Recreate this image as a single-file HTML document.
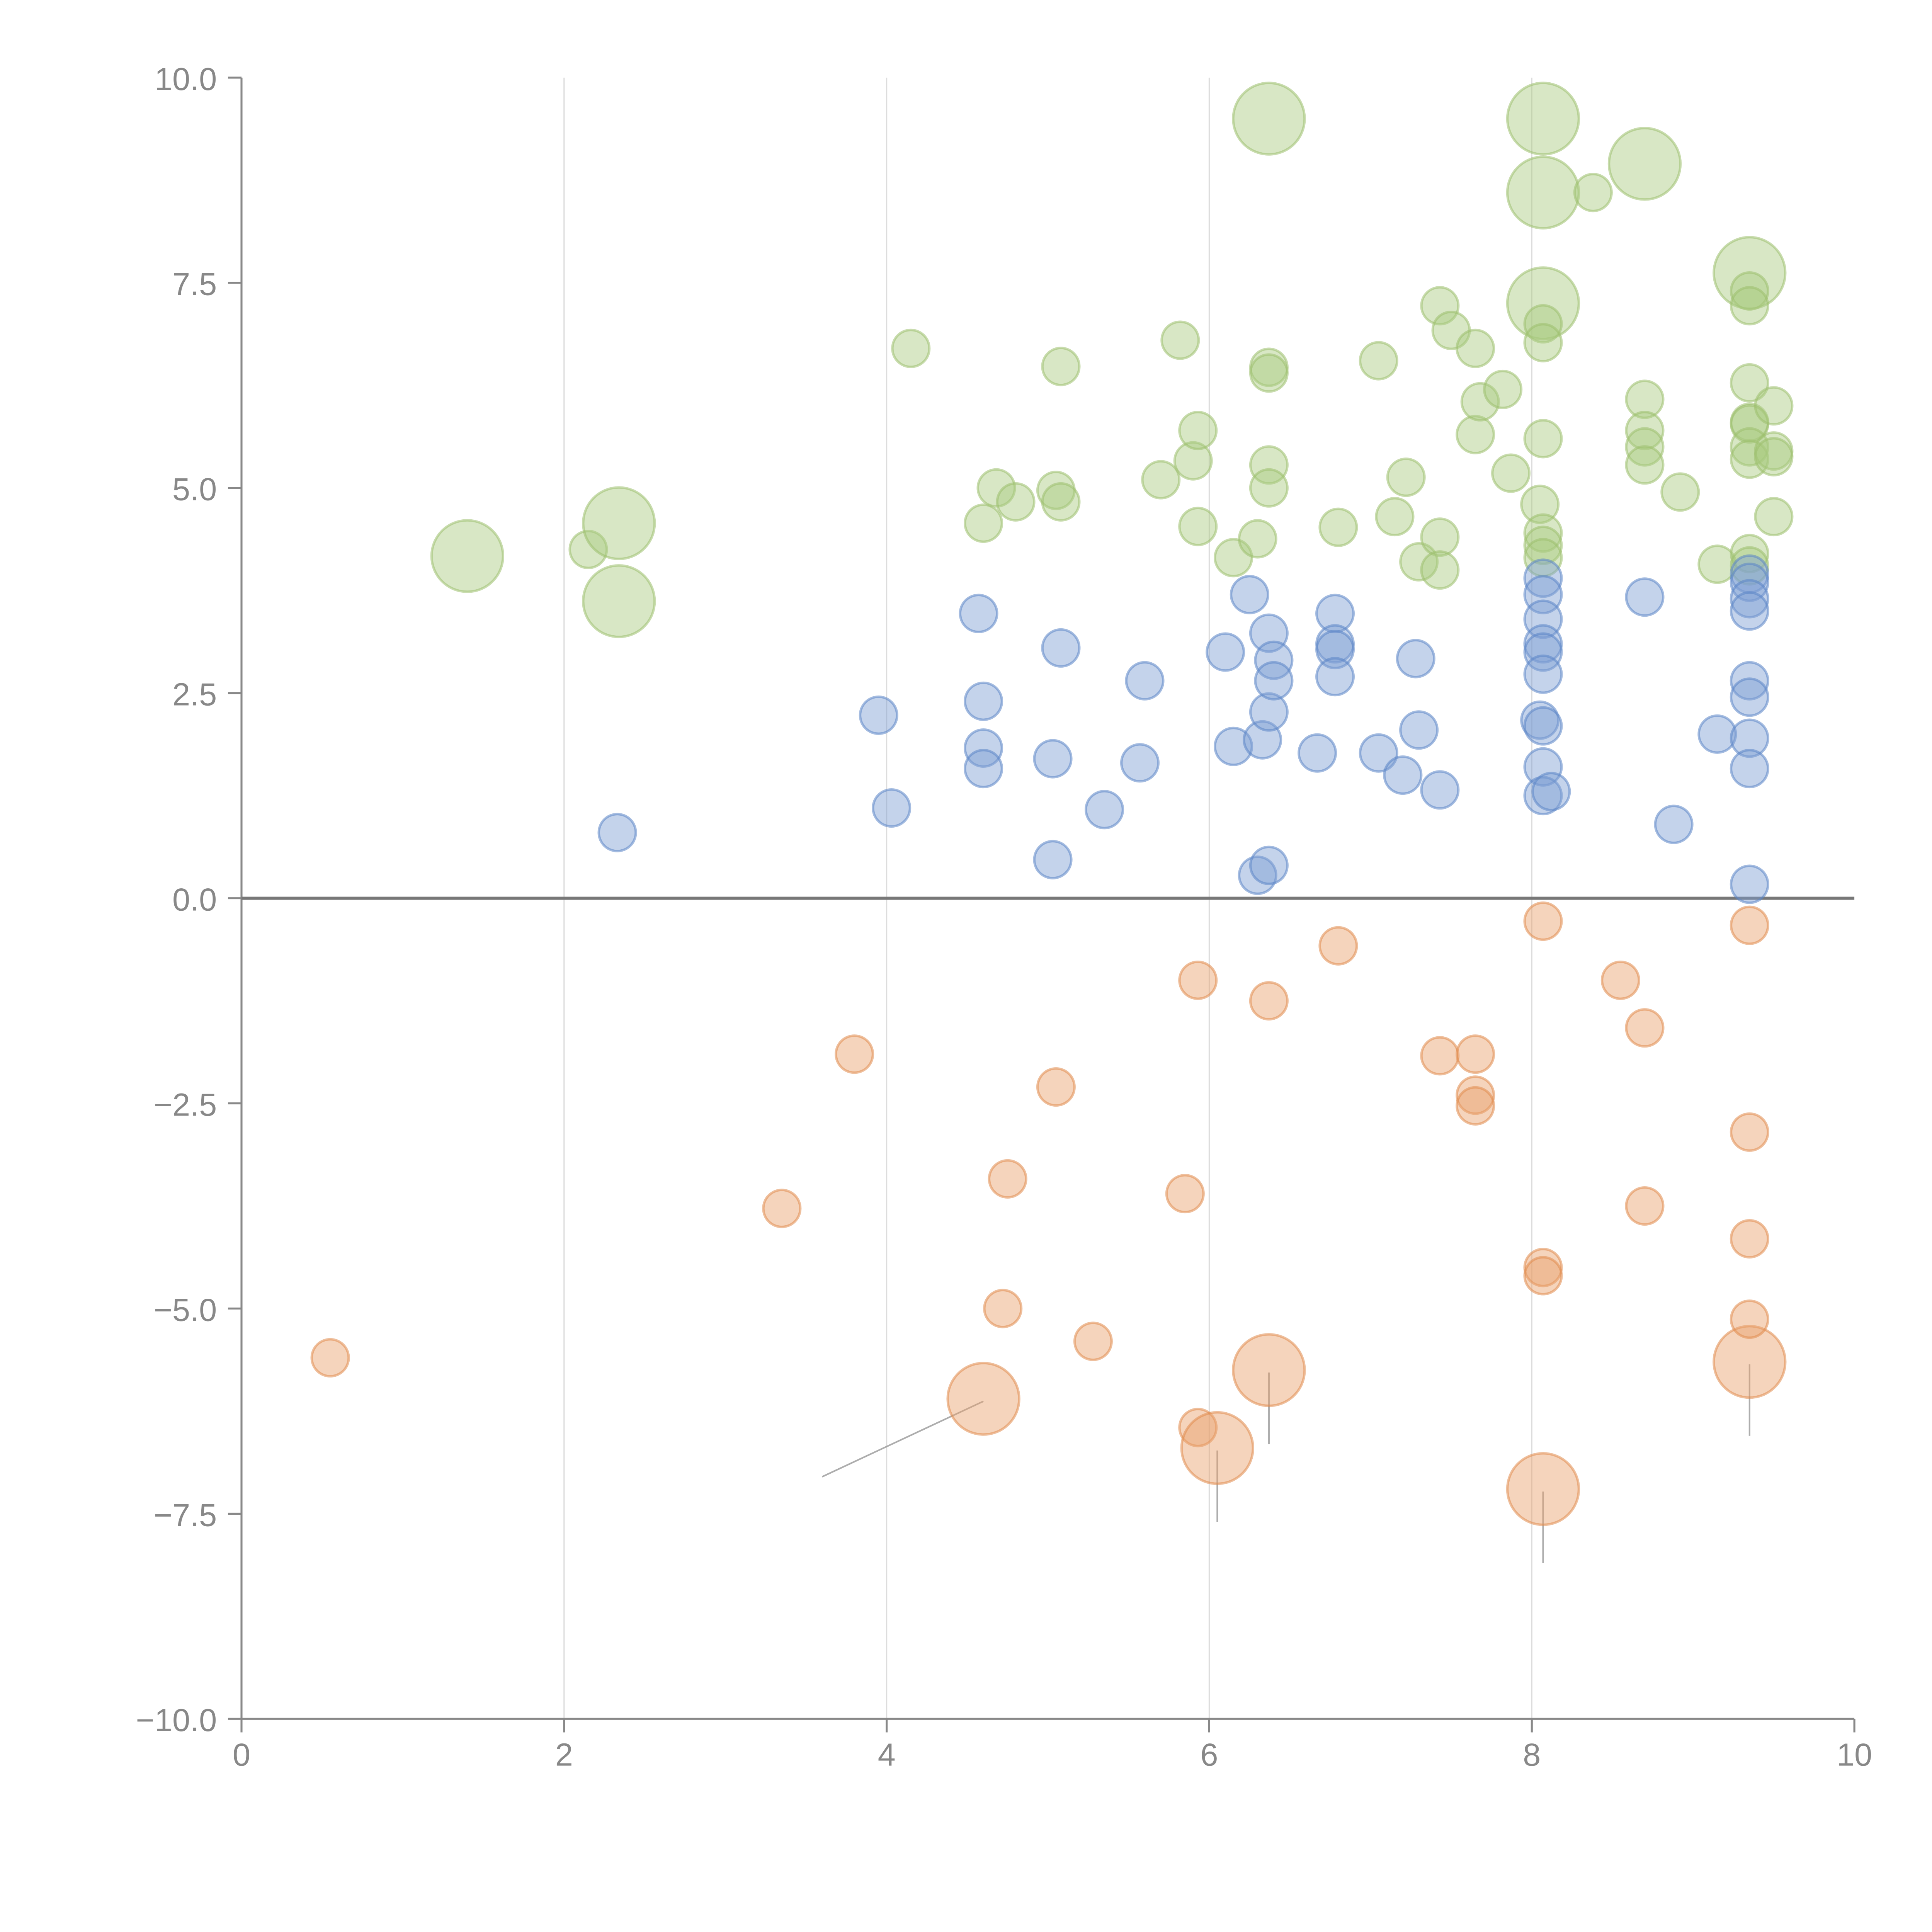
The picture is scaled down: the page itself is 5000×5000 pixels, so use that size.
<!DOCTYPE html>
<html><head><meta charset="utf-8"><style>
html,body{margin:0;padding:0;background:#fff}
svg{display:block}
text{font-family:"Liberation Sans",Arial,sans-serif;fill:#888;font-size:26px}
</style></head><body>
<svg id="chart" width="5000" height="5000" viewBox="0 0 1568 1568" xmlns="http://www.w3.org/2000/svg">
<g id="grid"></g>
<g id="axes"></g>
<g id="leaders"></g>
<g id="bubbles"></g>
</svg>
<script>
const xTicks=[0,2,4,6,8,10];
const yTicks=[-10,-7.5,-5,-2.5,0,2.5,5,7.5,10];
const greenX=[1.4,2.15,2.34,2.34,4.15,4.6,4.68,4.8,5.05,5.08,5.08,5.7,5.82,5.9,5.93,5.93,6.15,6.3,6.37,6.37,6.37,6.37,6.37,6.8,7.05,7.15,7.22,7.3,7.43,7.43,7.43,7.5,7.65,7.65,7.68,7.82,7.87,8.07,8.07,8.07,8.07,8.07,8.07,8.05,8.07,8.07,8.07,8.38,8.7,8.7,8.7,8.7,8.7,8.92,9.15,9.35,9.35,9.35,9.35,9.35,9.35,9.35,9.35,9.35,9.35,9.5,9.5,9.5,9.5];
const greenY=[4.17,4.25,4.57,3.62,6.7,4.57,5.0,4.83,4.97,4.83,6.48,5.1,6.8,5.33,5.7,4.53,4.15,4.38,9.5,6.47,6.4,5.28,5.0,4.52,6.55,4.65,5.13,4.1,7.22,4.4,4.0,6.92,6.7,5.65,6.05,6.2,5.18,9.5,8.6,7.25,7.0,6.77,5.6,4.8,4.45,4.3,4.15,8.6,8.95,6.08,5.7,5.5,5.28,4.95,4.07,7.62,7.4,7.22,6.28,5.8,5.78,5.5,5.35,4.2,4.05,6.0,5.45,5.38,4.65];
const greenBig=[1,0,1,1,0,0,0,0,0,0,0,0,0,0,0,0,0,0,1,0,0,0,0,0,0,0,0,0,0,0,0,0,0,0,0,0,0,1,1,1,0,0,0,0,0,0,0,0,1,0,0,0,0,0,0,1,0,0,0,0,0,0,0,0,0,0,0,0,0];
const blueX=[2.33,3.95,4.03,4.57,4.6,4.6,4.6,5.03,5.03,5.08,5.35,5.57,5.6,6.1,6.15,6.25,6.3,6.33,6.37,6.37,6.4,6.4,6.37,6.67,6.78,6.78,6.78,6.78,7.05,7.2,7.28,7.3,7.43,8.05,8.07,8.07,8.07,8.07,8.07,8.07,8.07,8.07,8.07,8.12,8.7,8.88,9.15,9.35,9.35,9.35,9.35,9.35,9.35,9.35,9.35,9.35];
const blueY=[0.8,2.23,1.1,3.47,2.4,1.83,1.58,1.7,0.47,3.05,1.08,1.65,2.65,3.0,1.85,3.7,0.28,1.93,3.23,2.27,2.9,2.65,0.4,1.77,3.47,3.1,3.03,2.7,1.77,1.5,2.92,2.05,1.32,2.17,3.9,3.7,3.4,3.1,3.0,2.73,2.1,1.6,1.25,1.3,3.67,0.9,2.0,3.95,3.85,3.65,3.5,2.65,2.45,1.95,1.58,0.17];
const orangeX=[0.55,3.35,3.8,4.6,4.72,4.75,5.05,5.28,5.85,5.93,5.93,6.05,6.37,6.37,6.8,7.43,7.65,7.65,7.65,8.07,8.07,8.07,8.07,8.55,8.7,8.7,9.35,9.35,9.35,9.35,9.35];
const orangeY=[-5.6,-3.78,-1.9,-6.1,-5.0,-3.42,-2.3,-5.4,-3.6,-1.0,-6.45,-6.7,-5.75,-1.25,-0.58,-1.92,-1.9,-2.4,-2.53,-7.2,-0.28,-4.5,-4.6,-1.0,-1.58,-3.75,-5.65,-0.33,-2.85,-4.15,-5.13];
const orangeBig=[0,0,0,1,0,0,0,0,0,0,0,1,1,0,0,0,0,0,0,1,0,0,0,0,0,0,1,0,0,0,0];

const NS="http://www.w3.org/2000/svg";
const X0=196,X1=1505,Y0=1395,Y1=63;
const sx=v=>X0+(v-0)/(10-0)*(X1-X0);
const sy=v=>Y0-(v+10)/20*(Y0-Y1);
function mk(tag,attrs,parent){const e=document.createElementNS(NS,tag);for(const k in attrs)e.setAttribute(k,attrs[k]);parent.appendChild(e);return e;}
const grid=document.getElementById('grid'),axes=document.getElementById('axes'),bub=document.getElementById('bubbles'),lead=document.getElementById('leaders');
xTicks.forEach(t=>{
  if(t>0&&t<10){const g=mk('line',{x1:sx(t),x2:sx(t),y1:Y1,y2:Y0,stroke:'#ddd','stroke-width':1},grid);
  
  }
  const tk=mk('line',{x1:sx(t),x2:sx(t),y1:Y0,y2:Y0+11,stroke:'#888','stroke-width':1.6},axes);
  
  
  const lb=mk('text',{x:sx(t),y:Y0+38,'text-anchor':'middle'},axes);lb.textContent=t;
  
  
});
yTicks.forEach(t=>{
  const tk=mk('line',{x1:X0-11,x2:X0,y1:sy(t),y2:sy(t),stroke:'#888','stroke-width':1.6},axes);
  
  
  const lb=mk('text',{x:X0-20,y:sy(t)+10,'text-anchor':'end'},axes);lb.textContent=t.toFixed(1).replace('-','\u2212');
  
  
});
const ya=mk('line',{x1:X0,x2:X0,y1:Y1,y2:Y0,stroke:'#888','stroke-width':1.6},axes);


const xa=mk('line',{x1:X0,x2:X1,y1:Y0,y2:Y0,stroke:'#888','stroke-width':1.6},axes);


const zl=mk('line',{x1:X0,x2:X1,y1:sy(0),y2:sy(0),stroke:'#777','stroke-width':2.5},axes);



function series(xs,ys,big,fill,stroke,name){
  xs.forEach((x,i)=>{
    const r=big&&big[i]?29:15;
    const c=mk('circle',{cx:sx(x),cy:sy(ys[i]),r:r,fill:fill,'fill-opacity':0.45,stroke:stroke,'stroke-opacity':0.55,'stroke-width':2},bub);
    
    
    if(name==='orange-bubble'&&big&&big[i]){
      const ln=mk('line',{x1:sx(x),y1:sy(ys[i])+2,x2:(x===4.6?sx(3.6):sx(x)),y2:(x===4.6?sy(-7.05):sy(ys[i])+60),stroke:'#999','stroke-width':1.3,'stroke-opacity':0.8},lead);
      
      
    }
  });
}
series(greenX,greenY,greenBig,'#a9c97e','#9dc06e','green-bubble');
series(blueX,blueY,null,'#7d9ed3','#5b85c6','blue-bubble');
series(orangeX,orangeY,orangeBig,'#e8a06a','#e08a4c','orange-bubble');
</script>
</body></html>
